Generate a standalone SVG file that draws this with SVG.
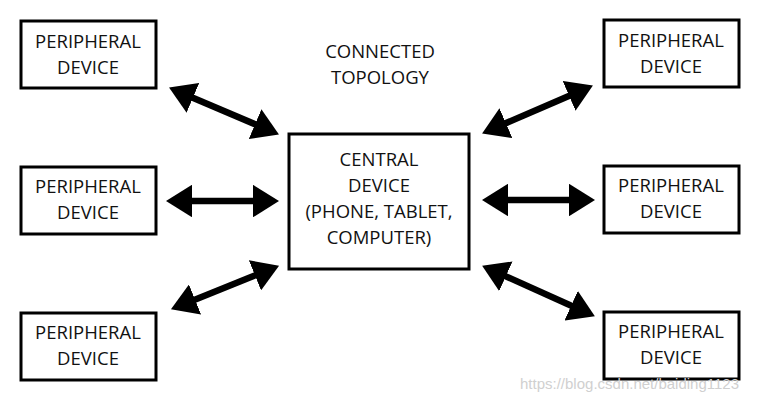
<svg xmlns="http://www.w3.org/2000/svg" width="762" height="402" viewBox="0 0 762 402">
<style>
.box{fill:#fff;stroke:#000;stroke-width:3}
.t{font-family:"Open Sans",sans-serif;font-size:18.5px;fill:#111;text-anchor:middle}
.a{stroke:#000;stroke-width:6.5;marker-start:url(#h);marker-end:url(#h)}
</style>
<defs>
<marker id="h" viewBox="0 0 4 5" refX="2" refY="2.5" markerWidth="4" markerHeight="5" orient="auto-start-reverse" markerUnits="strokeWidth">
<path d="M0,0 L4,2.5 L0,5 Z" fill="#000"/>
</marker>
</defs>
<rect width="762" height="402" fill="#fff"/>
<g id="title"><text class="t" x="380" y="58">CONNECTED</text><text class="t" x="380" y="84">TOPOLOGY</text></g>
<g id="central"><rect class="box" x="289" y="134" width="180" height="135"/>
<text class="t" x="379" y="166">CENTRAL</text><text class="t" x="379" y="192">DEVICE</text><text class="t" x="379" y="218">(PHONE, TABLET,</text><text class="t" x="379" y="244">COMPUTER)</text></g>
<g id="p1"><rect class="box" x="21" y="21" width="135" height="67"/><text class="t" x="88" y="48">PERIPHERAL</text><text class="t" x="88" y="74">DEVICE</text></g>
<g id="p2"><rect class="box" x="21" y="167" width="135" height="67"/><text class="t" x="88" y="193">PERIPHERAL</text><text class="t" x="88" y="219">DEVICE</text></g>
<g id="p3"><rect class="box" x="21" y="313" width="135" height="67"/><text class="t" x="88" y="339">PERIPHERAL</text><text class="t" x="88" y="365">DEVICE</text></g>
<g id="p4"><rect class="box" x="604" y="20" width="135" height="67"/><text class="t" x="671" y="47">PERIPHERAL</text><text class="t" x="671" y="73">DEVICE</text></g>
<g id="p5"><rect class="box" x="604" y="166" width="135" height="67"/><text class="t" x="671" y="192">PERIPHERAL</text><text class="t" x="671" y="218">DEVICE</text></g>
<g id="p6"><rect class="box" x="604" y="312" width="135" height="67"/><text class="t" x="671" y="338">PERIPHERAL</text><text class="t" x="671" y="364">DEVICE</text></g>
<g id="connectors">
<line class="a" x1="181" y1="92.7" x2="267" y2="129.3"/>
<line class="a" x1="179" y1="201" x2="266" y2="201"/>
<line class="a" x1="183" y1="304.4" x2="267" y2="270.5"/>
<line class="a" x1="581" y1="90.7" x2="494" y2="128.3"/>
<line class="a" x1="495" y1="200" x2="582" y2="200"/>
<line class="a" x1="494" y1="271" x2="583" y2="311"/>
</g>
<text x="520" y="389" font-family="Liberation Sans,sans-serif" font-size="15" fill="#d0d0d0">https://blog.csdn.net/baiding1123</text>
</svg>
